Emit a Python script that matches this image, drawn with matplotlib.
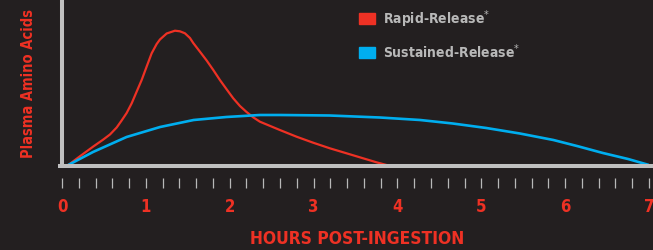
import matplotlib
matplotlib.use("Agg")
import matplotlib.pyplot as plt
import matplotlib.patches as mpatches
import numpy as np

# colours
BG = "#231f20"
RED = "#ee3124"
BLUE = "#00aeef"
GREY = "#c0c0c0"
TXT_GREY = "#b8b8b8"

FONT = dict(family="DejaVu Sans", fontstretch="condensed", fontweight="bold")

# data (hours vs. relative plasma level)
rapid_hours = [0.075, 0.215, 0.373, 0.493, 0.572, 0.652, 0.711, 0.771, 0.831, 0.890,
               0.950, 1.009, 1.069, 1.129, 1.168, 1.248, 1.347, 1.406, 1.466, 1.526,
               1.565, 1.645, 1.725, 1.804, 1.883, 1.963, 2.042, 2.122, 2.201, 2.280,
               2.360, 2.598, 2.797, 2.995, 3.194, 3.393, 3.591, 3.75, 3.87]
rapid_level = [1, 9.8, 19.5, 26.5, 31.5, 38.5, 45.5, 53, 62.7, 74.3,
               86, 99.3, 112.7, 122, 126.5, 132.5, 135.3, 134.7, 132.7, 128,
               123, 114.3, 105.5, 96, 86, 76.7, 67.7, 60, 54, 48.7,
               44.3, 36, 29.3, 23.3, 17.7, 12.7, 7.7, 3.7, 1]

sustained_hours = [0.075, 0.37, 0.77, 1.17, 1.57, 1.96, 2.36, 2.60, 3.19, 3.79,
                   4.27, 4.66, 5.06, 5.46, 5.86, 6.15, 6.45, 6.75, 7.0]
sustained_level = [1, 14, 29, 39, 46, 49, 51, 51, 50.5, 48.5,
                   46, 42.5, 38, 32.5, 26, 19.8, 13, 7, 1]

xticks_major = list(range(0, 8))
series_labels = ["Rapid-Release", "Sustained-Release"]

fig = plt.figure(figsize=(6.53, 2.5), dpi=100, facecolor=BG)
ax = fig.add_axes([62 / 653, 84 / 250, 587 / 653, 166 / 250])
ax.set_facecolor(BG)

ax.plot(rapid_hours, rapid_level, color=RED, lw=1.6, solid_capstyle="round",
        solid_joinstyle="round", zorder=3)
ax.plot(sustained_hours, sustained_level, color=BLUE, lw=1.9, solid_capstyle="round",
        solid_joinstyle="round", zorder=3)

ax.set_xlim(0, 7)
ax.set_ylim(0, 166)

# axes frame
for s in ["top", "right"]:
    ax.spines[s].set_visible(False)
ax.spines["left"].set_color(GREY)
ax.spines["left"].set_linewidth(2.9)
ax.spines["bottom"].set_position(("outward", 8.6))
ax.spines["bottom"].set_visible(False)
ax.axhline(0, color=GREY, lw=2.9, clip_on=False, xmin=-0.004, xmax=1.003, zorder=4)

ax.set_yticks([])
ax.set_xticks(xticks_major)
ax.set_xticks(np.arange(0, 7.01, 0.2), minor=True)
ax.tick_params(axis="x", which="both", direction="out", length=7.2, width=0.9,
               color=TXT_GREY, pad=7.5)
ax.set_xticklabels([str(t) for t in xticks_major], color=RED, fontsize=12, **FONT)

ax.set_ylabel("Plasma Amino Acids", color=RED, fontsize=10.5, labelpad=19, **FONT)
fig.text(357 / 653, 1 - 239 / 250, "HOURS POST-INGESTION",
         color=RED, fontsize=12.5, ha="center", va="center", **FONT)

# legend
handles = [mpatches.Patch(color=RED, label=series_labels[0] + "$^{*}$"),
           mpatches.Patch(color=BLUE, label=series_labels[1] + "$^{*}$")]
leg = ax.legend(handles=handles, loc="upper left", bbox_to_anchor=(359 / 653, 1 - 8 / 250),
                bbox_transform=fig.transFigure, frameon=False, labelcolor=TXT_GREY,
                prop={"family": "DejaVu Sans", "stretch": "condensed", "weight": "bold", "size": 10},
                handlelength=1.15, handleheight=0.85, handletextpad=0.6, labelspacing=0.9,
                borderpad=0, borderaxespad=0)

fig.savefig("out.png", dpi=100, facecolor=BG)
